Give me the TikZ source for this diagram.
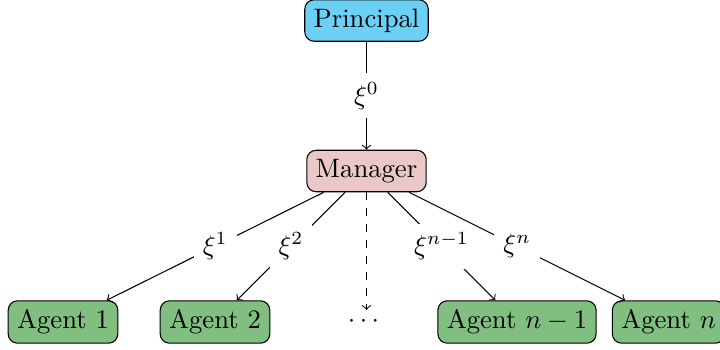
\documentclass[tikz,border=0pt]{standalone}
\definecolor{princ}{RGB}{108,207,246}
\definecolor{manag}{RGB}{235,200,200}
\definecolor{agentc}{RGB}{128,191,128}
\begin{document}
\begin{tikzpicture}[x=0.375pt,y=-0.375pt,
  box/.style={draw, rounded corners=3.5pt, inner sep=3.333pt},
  lbl/.style={fill=white},
  edge/.style={->}]
\useasboundingbox (0,0) rectangle (720,349);
\node[box, fill=princ] (p) at (366.5,20.5) {Principal};
\node[box, fill=manag] (m) at (366.5,171) {Manager};
\node[box, fill=agentc] (a1) at (63,322) {Agent 1};
\node[box, fill=agentc] (a2) at (215,322) {Agent 2};
\node (d) at (363.5,322) {$\cdots$};
\coordinate (dt) at (366.5,310);
\node[box, fill=agentc] (an1) at (517,322) {Agent $n-1$};
\node[box, fill=agentc] (an) at (668.5,322) {Agent $n$};
\draw[edge] (p) -- node[lbl] {$\xi^0$} (m);
\draw[edge] (m) -- node[lbl] {$\xi^1$} (a1);
\draw[edge] (m) -- node[lbl] {$\xi^2$} (a2);
\draw[edge, dashed] (m.south) -- (dt);
\draw[edge] (m) -- node[lbl] {$\xi^{n-1}$} (an1);
\draw[edge] (m) -- node[lbl] {$\xi^n$} (an);
\end{tikzpicture}
\end{document}
